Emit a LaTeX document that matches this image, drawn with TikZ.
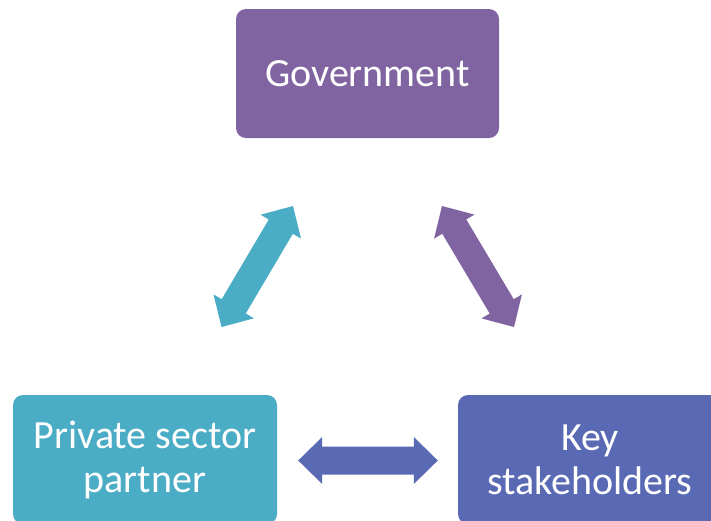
\documentclass[tikz,border=0pt]{standalone}
\usepackage{fontspec}
\setmainfont{Carlito}
\usetikzlibrary{calc}
\definecolor{govpurple}{HTML}{8064A2}
\definecolor{privaqua}{HTML}{4BACC6}
\definecolor{keyblue}{HTML}{5A69B3}
\tikzset{
  party/.style={fill=#1, draw=none, rounded corners=10pt, minimum width=264pt,
    minimum height=129pt, inner sep=0pt, text=white, align=center,
    font=\fontsize{40}{44}\selectfont},
  linkarrow/.style={fill=#1, draw=none},
}
% double-headed block arrow between two tip points
\newcommand\blockarrow[3]{%
  \fill[linkarrow=#3] (#1)
    -- ($(#1)!24pt!(#2)!23.5pt!90:(#2)$)
    -- ($(#1)!24pt!(#2)!14pt!90:(#2)$)
    -- ($(#2)!24pt!(#1)!14pt!-90:(#1)$)
    -- ($(#2)!24pt!(#1)!23.5pt!-90:(#1)$)
    -- (#2)
    -- ($(#2)!24pt!(#1)!23.5pt!90:(#1)$)
    -- ($(#2)!24pt!(#1)!14pt!90:(#1)$)
    -- ($(#1)!24pt!(#2)!14pt!-90:(#2)$)
    -- ($(#1)!24pt!(#2)!23.5pt!-90:(#2)$)
    -- cycle;}
\begin{document}
\begin{tikzpicture}[x=1pt, y=-1pt]
  \useasboundingbox (0,0) rectangle (711,520);
  \clip (0,0) rectangle (711,520);

  \node[party=govpurple, minimum width=263pt] (gov) at (367.5,73.5) {Government};
  \node[party=privaqua] (psp) at (145,459.5) {Private sector\\partner};
  \node[party=keyblue] (key) at (590,459.5) {Key\\stakeholders};

  % arrow tips
  \coordinate (pspTip) at (221.5,327);
  \coordinate (govTipL) at (293,206);
  \coordinate (govTipR) at (442,206);
  \coordinate (keyTip) at (514,327);
  \coordinate (pspSide) at ($(psp.east)+(21,1)$);
  \coordinate (keySide) at ($(key.west)+(-20,1)$);

  \blockarrow{pspTip}{govTipL}{privaqua}
  \blockarrow{govTipR}{keyTip}{govpurple}
  \blockarrow{pspSide}{keySide}{keyblue}
\end{tikzpicture}
\end{document}
